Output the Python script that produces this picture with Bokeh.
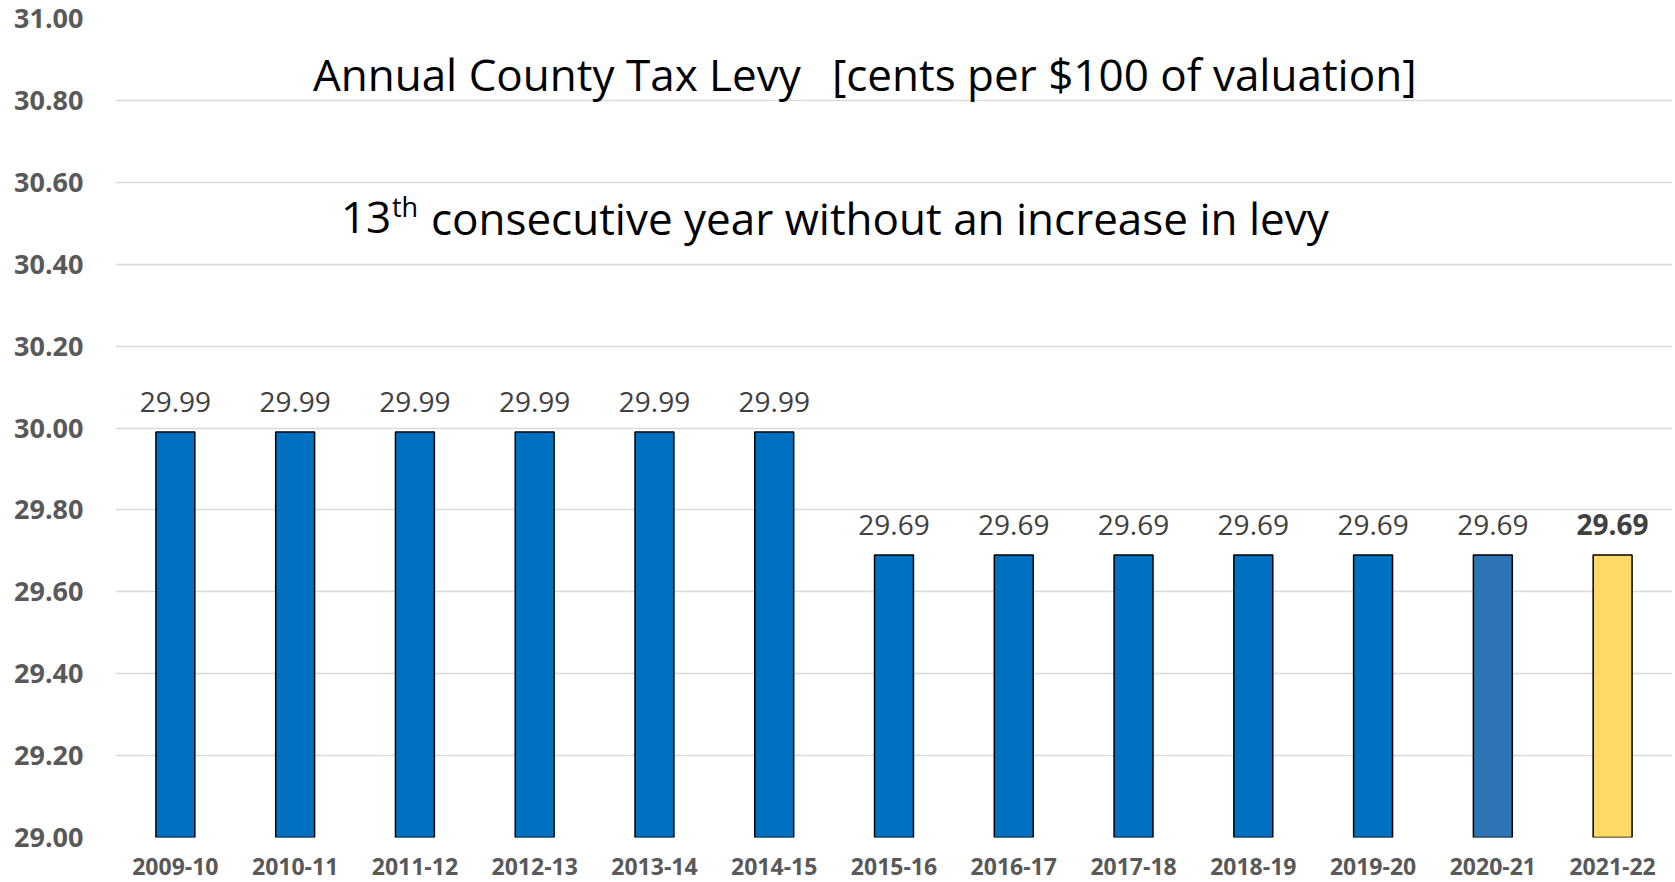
from bokeh.plotting import figure
from bokeh.models import FactorRange, Range1d, FixedTicker, PrintfTickFormatter, LabelSet, Label, ColumnDataSource
from bokeh.core.properties import value
from bokeh.embed import file_html
from bokeh.resources import INLINE

years = ["2009-10", "2010-11", "2011-12", "2012-13", "2013-14", "2014-15", "2015-16",
         "2016-17", "2017-18", "2018-19", "2019-20", "2020-21", "2021-22"]
levy = [29.99, 29.99, 29.99, 29.99, 29.99, 29.99, 29.69,
        29.69, 29.69, 29.69, 29.69, 29.69, 29.69]
bar_colors = ["#0070C0"] * 11 + ["#2E75B6", "#FFD966"]
label_styles = ["normal"] * 12 + ["bold"]
y_ticks = [29.0, 29.2, 29.4, 29.6, 29.8, 30.0, 30.2, 30.4, 30.6, 30.8, 31.0]
y_min, y_max = 29.0, 31.0

title_a, title_b = "Annual County Tax Levy", "[cents per $100 of valuation]"
sub_num, sub_sup, sub_rest = "13", "th", "consecutive year without an increase in levy"

src = ColumnDataSource(dict(year=years, levy=levy, color=bar_colors,
                            text=["%.2f" % v for v in levy], style=label_styles))

p = figure(x_range=FactorRange(*years), y_range=Range1d(y_min, y_max),
           width=1675, height=882, output_backend="svg", toolbar_location=None,
           min_border_left=115, min_border_right=3, min_border_top=18, min_border_bottom=45)
p.outline_line_color = None
p.background_fill_color = "white"
p.border_fill_color = "white"

p.vbar(x="year", top="levy", bottom=y_min, width=0.325, source=src,
       fill_color="color", line_color="black", line_width=1.5)

# value labels above bars
p.add_layout(LabelSet(x="year", y="levy", text="text", source=src, y_offset=20,
                      text_align="center", text_baseline="alphabetic",
                      text_font=value("Open Sans"), text_font_size="28px",
                      text_font_style="style", text_color="#404040"))

p.xgrid.grid_line_color = None
p.ygrid.grid_line_color = "#D9D9D9"
p.ygrid.grid_line_width = 1.5
p.yaxis.ticker = FixedTicker(ticks=y_ticks)
p.yaxis.formatter = PrintfTickFormatter(format="%.2f")

for ax in (p.xaxis, p.yaxis):
    ax.axis_line_color = None
    ax.major_tick_line_color = None
    ax.minor_tick_line_color = None
    ax.major_tick_out = 0
    ax.major_tick_in = 0
    ax.major_label_text_font = "Open Sans"
    ax.major_label_text_font_style = "bold"
    ax.major_label_text_color = "#595959"
p.yaxis.major_label_text_font_size = "27px"
p.yaxis.major_label_standoff = 32
p.xaxis.major_label_text_font_size = "23px"
p.xaxis.major_label_standoff = 20

common = dict(text_font="Open Sans", text_color="#000000",
              text_align="left", text_baseline="alphabetic")
p.add_layout(Label(x=1.648, y=30.8635, text=title_a, text_font_size="44px", **common))
p.add_layout(Label(x=1.648, y=30.8635, x_offset=519, text=title_b, text_font_size="44px", **common))
p.add_layout(Label(x=1.882, y=30.514, text=sub_num, text_font_size="44px", **common))
p.add_layout(Label(x=1.882, y=30.514, x_offset=51, y_offset=11, text=sub_sup,
                   text_font_size="27px", **common))
p.add_layout(Label(x=1.882, y=30.514, x_offset=90, text=sub_rest, text_font_size="44px", **common))

open("out.html", "w").write(file_html(p, INLINE))
